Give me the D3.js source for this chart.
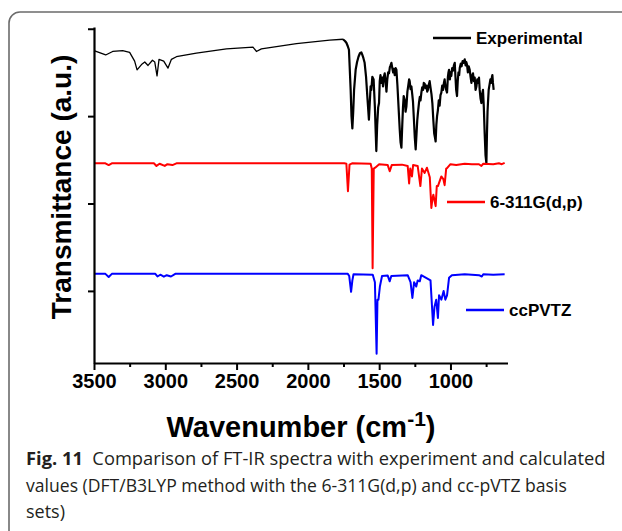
<!DOCTYPE html>
<html lang="en">
<head>
  <meta charset="UTF-8">
  <title>FT-IR spectra comparison</title>
  <script src="https://d3js.org/d3.v7.min.js"></script>
  <style>
    body { margin: 0; background: #fff; }
    svg { display: block; }
    .tick text { font-family: Arial, 'Liberation Sans', sans-serif; font-weight: bold; }
  </style>
</head>
<body>
<svg id="chart" width="622" height="531"></svg>
<script>
  // wavenumber (cm-1) / transmittance (a.u., stacked offsets)
  const expWn = [3500, 3418, 3369, 3299, 3250, 3215, 3198, 3167, 3144, 3121, 3090, 3074, 3058, 3044, 3011, 2981, 2957, 2922,
    2782, 2571, 2385, 2361, 2326, 2080, 1847, 1754,
    1740, 1730, 1720, 1712, 1700, 1694, 1688, 1682, 1676, 1665, 1655, 1645, 1635, 1625, 1618, 1610, 1602, 1592, 1582, 1572,
    1566, 1560, 1555, 1548, 1539, 1530, 1524, 1520, 1514, 1507, 1501, 1496, 1491, 1484, 1478, 1473, 1467, 1461, 1455, 1449,
    1443, 1437, 1431, 1425, 1420, 1414, 1408, 1402, 1396, 1391, 1385, 1379, 1372, 1364, 1356, 1350, 1344, 1338, 1333, 1328,
    1320, 1315, 1309, 1302, 1296, 1290, 1286, 1280, 1274, 1268, 1263, 1256, 1250, 1244, 1238, 1233, 1228, 1221, 1215, 1210,
    1204, 1198, 1192, 1187, 1181, 1175, 1168, 1163, 1158, 1152, 1146, 1140, 1133, 1127, 1120, 1114, 1108, 1104, 1099, 1094,
    1088, 1082, 1076, 1070, 1064, 1058, 1052, 1046, 1041, 1036, 1030, 1024, 1018, 1014, 1010, 1004, 999, 994, 988, 982,
    976, 970, 965, 960, 954, 949, 944, 939, 935, 928, 922, 915, 908, 900, 894, 889, 884, 878, 872, 865,
    859, 853, 848, 842, 836, 830, 824, 818, 812, 806, 800, 795, 789, 783, 778, 772, 766, 760, 754, 748,
    744, 740, 737, 732, 726, 720, 714, 709, 706, 702, 697];
  const expT = [2.75, 2.70, 2.74, 2.75, 2.73, 2.63, 2.53, 2.59, 2.62, 2.58, 2.64, 2.62, 2.46, 2.65, 2.63, 2.55, 2.65, 2.68,
    2.72, 2.77, 2.79, 2.74, 2.77, 2.83, 2.87, 2.88,
    2.86, 2.84, 2.80, 2.76, 2.30, 2.00, 1.86, 2.05, 2.30, 2.53, 2.62, 2.68, 2.72, 2.73, 2.70, 2.66, 2.61, 2.45, 2.20, 1.96,
    2.15, 2.34, 2.30, 2.45, 2.42, 2.10, 1.80, 1.60, 1.90, 2.10, 2.15, 2.40, 2.47, 2.38, 2.44, 2.34, 2.45, 2.49, 2.40, 2.28,
    2.42, 2.50, 2.49, 2.56, 2.58, 2.61, 2.55, 2.50, 2.54, 2.47, 2.55, 2.53, 2.35, 2.10, 1.85, 1.70, 1.64, 1.90, 2.10, 2.23,
    2.18, 2.05, 2.11, 2.28, 2.35, 2.42, 2.40, 2.31, 2.34, 2.25, 2.17, 1.95, 1.75, 1.62, 1.80, 1.95, 2.04, 2.15, 2.22, 2.18,
    2.27, 2.33, 2.30, 2.38, 2.37, 2.32, 2.35, 2.28, 2.30, 2.36, 2.40, 2.33, 2.25, 2.15, 1.95, 1.80, 1.75, 1.71, 1.90, 2.00,
    2.07, 2.18, 2.12, 2.24, 2.27, 2.35, 2.30, 2.38, 2.42, 2.35, 2.30, 2.27, 2.45, 2.50, 2.53, 2.42, 2.50, 2.46, 2.55, 2.52,
    2.58, 2.61, 2.45, 2.30, 2.23, 2.40, 2.50, 2.47, 2.55, 2.60, 2.57, 2.63, 2.61, 2.65, 2.58, 2.62, 2.59, 2.50, 2.57, 2.53,
    2.45, 2.38, 2.46, 2.49, 2.40, 2.44, 2.30, 2.34, 2.42, 2.38, 2.44, 2.30, 2.20, 2.15, 2.25, 2.30, 2.10, 1.80, 1.55, 1.46,
    1.80, 2.05, 2.15, 2.30, 2.36, 2.42, 2.38, 2.45, 2.47, 2.38, 2.30];

  const g6Wn = [3500, 3420, 3397, 3375, 3080, 3062, 3040, 3004, 2985, 2950, 2922, 1745, 1730, 1719, 1708, 1690, 1560, 1552,
    1546, 1538, 1528, 1500, 1440, 1426, 1412, 1340, 1300, 1290, 1282, 1270, 1262, 1230, 1211, 1200, 1181, 1165, 1145, 1134,
    1126, 1120, 1104, 1096, 1088, 1064, 1050, 1041, 1030, 1024, 1000, 960, 900, 850, 800, 783, 770, 700, 660, 640, 620];
  const g6T = [1.46, 1.46, 1.44, 1.46, 1.46, 1.43, 1.455, 1.43, 1.45, 1.44, 1.46, 1.46, 1.455, 1.14, 1.445, 1.46, 1.455, 1.40,
    0.26, 1.40, 1.41, 1.45, 1.44, 1.37, 1.44, 1.445, 1.43, 1.23, 1.40, 1.31, 1.44, 1.43, 1.20, 1.40, 1.35, 1.41, 1.30, 0.95,
    1.06, 1.10, 0.97, 1.20, 1.20, 1.31, 1.28, 1.21, 1.40, 1.405, 1.45, 1.44, 1.455, 1.45, 1.45, 1.43, 1.455, 1.45, 1.46, 1.45, 1.465];

  const ccWn = [3500, 3420, 3397, 3375, 3070, 3055, 3035, 3010, 2990, 2960, 2930, 1720, 1710, 1697, 1688, 1680, 1545, 1530,
    1518, 1512, 1505, 1495, 1480, 1440, 1426, 1415, 1300, 1280, 1267, 1255, 1240, 1230, 1215, 1205, 1140, 1122, 1112, 1100,
    1088, 1080, 1064, 1048, 1036, 1024, 1010, 990, 900, 800, 780, 770, 700, 620];
  const ccT = [0.195, 0.195, 0.16, 0.195, 0.195, 0.165, 0.185, 0.163, 0.18, 0.165, 0.195, 0.195, 0.17, -0.01, 0.12, 0.19, 0.185, 0.10,
    -0.72, -0.10, -0.10, 0.05, 0.17, 0.175, 0.11, 0.17, 0.18, 0.10, -0.08, 0.10, 0.05, 0.12, 0.11, 0.18, 0.12, -0.39, -0.18, -0.10,
    -0.31, -0.05, -0.10, 0.0, -0.10, -0.05, 0.15, 0.18, 0.19, 0.18, 0.165, 0.19, 0.185, 0.19];

  const seriesNames = ["Experimental", "6-311G(d,p)", "ccPVTZ"];
  const seriesColors = ["#000000", "#ff0000", "#0000ff"];
  const xTicks = [3500, 3000, 2500, 2000, 1500, 1000];
  const xMinorTicks = [3250, 2750, 2250, 1750, 1250, 750];
  const yTicks = [0, 1, 2, 3];
  const caption = [
    ["Fig. 11", "  Comparison of FT-IR spectra with experiment and calculated"],
    ["", "values (DFT/B3LYP method with the 6-311G(d,p) and cc-pVTZ basis"],
    ["", "sets)"]
  ];

  const svg = d3.select("#chart");

  // card frame
  svg.append("rect")
    .attr("x", 9).attr("y", 12)
    .attr("width", 660).attr("height", 560)
    .attr("rx", 11)
    .attr("fill", "none")
    .attr("stroke", "#6b6b6b")
    .attr("stroke-width", 1.6);

  const x = d3.scaleLinear().domain([3500, 600]).range([94, 507.5]);
  const y = d3.scaleLinear().domain([-0.825, 3.02]).range([363, 27]);

  const expData = d3.zip(expWn, expT);
  const line = d3.line().x(d => x(d[0])).y(d => y(d[1]));

  // experimental: thin above 1760 cm-1, heavier (dense) in the fingerprint region
  svg.append("path")
    .datum(expData.filter(d => d[0] >= 1754))
    .attr("d", line)
    .attr("fill", "none").attr("stroke", seriesColors[0])
    .attr("stroke-width", 1.3).attr("stroke-linejoin", "round");
  svg.append("path")
    .datum(expData.filter(d => d[0] <= 1754))
    .attr("d", line)
    .attr("fill", "none").attr("stroke", seriesColors[0])
    .attr("stroke-width", 2.2).attr("stroke-linejoin", "round");

  [d3.zip(g6Wn, g6T), d3.zip(ccWn, ccT)].forEach((d, i) => {
    svg.append("path")
      .datum(d)
      .attr("d", line)
      .attr("fill", "none")
      .attr("stroke", seriesColors[i + 1])
      .attr("stroke-width", 2)
      .attr("stroke-linejoin", "round");
  });

  // axes
  const xAxis = svg.append("g")
    .attr("transform", `translate(0,${y.range()[0]})`)
    .call(d3.axisBottom(x).tickValues(xTicks).tickFormat(d3.format("d")).tickSize(7).tickSizeOuter(0).tickPadding(4));
  xAxis.select(".domain").attr("stroke-width", 2.2);
  xAxis.selectAll(".tick line").attr("stroke-width", 2);
  xAxis.selectAll(".tick text").attr("font-size", 20);

  svg.append("g")
    .attr("transform", `translate(0,${y.range()[0]})`)
    .call(d3.axisBottom(x).tickValues(xMinorTicks).tickFormat("").tickSize(4).tickSizeOuter(0))
    .call(g => g.select(".domain").remove())
    .selectAll(".tick line").attr("stroke-width", 2);

  const yAxis = svg.append("g")
    .attr("transform", `translate(${x.range()[0]},0)`)
    .call(d3.axisLeft(y).tickValues(yTicks).tickFormat("").tickSize(6).tickSizeOuter(0));
  yAxis.select(".domain").attr("stroke-width", 2.2);
  yAxis.selectAll(".tick line").attr("stroke-width", 2);

  // axis titles
  const xLabel = svg.append("text")
    .attr("x", 301).attr("y", 437)
    .attr("text-anchor", "middle")
    .attr("font-family", "Arial, 'Liberation Sans', sans-serif")
    .attr("font-weight", "bold")
    .attr("font-size", 29)
    .text("Wavenumber (cm");
  xLabel.append("tspan").attr("dy", -11).attr("font-size", 21).text("-1");
  xLabel.append("tspan").attr("dy", 11).text(")");

  svg.append("text")
    .attr("transform", "translate(71,187) rotate(-90)")
    .attr("text-anchor", "middle")
    .attr("font-family", "Arial, 'Liberation Sans', sans-serif")
    .attr("font-weight", "bold")
    .attr("font-size", 28)
    .text("Transmittance (a.u.)");

  // legend entries
  const legendPos = [[433, 38], [447, 202], [466, 310]];
  seriesNames.forEach((name, i) => {
    const [lx, ly] = legendPos[i];
    svg.append("line")
      .attr("x1", lx).attr("x2", lx + 38)
      .attr("y1", ly).attr("y2", ly)
      .attr("stroke", seriesColors[i])
      .attr("stroke-width", 2.5);
    svg.append("text")
      .attr("x", lx + 43).attr("y", ly + 6)
      .attr("font-family", "Arial, 'Liberation Sans', sans-serif")
      .attr("font-weight", "bold")
      .attr("font-size", 17)
      .text(name);
  });

  // caption
  const capWidths = [580, 541, null];
  caption.forEach((c, i) => {
    const t = svg.append("text")
      .attr("x", 26).attr("y", 465 + i * 26.5)
      .attr("font-family", "'Open Sans', 'Noto Sans', sans-serif")
      .attr("font-size", 18)
      .attr("fill", "#231f20")
      .attr("xml:space", "preserve");
    if (c[0]) t.append("tspan").attr("font-weight", "bold").text(c[0]);
    t.append("tspan").text(c[1]);
    if (capWidths[i]) {
      const w = t.node().getComputedTextLength();
      t.attr("font-size", 18 * capWidths[i] / w);
    }
  });
</script>
</body>
</html>
